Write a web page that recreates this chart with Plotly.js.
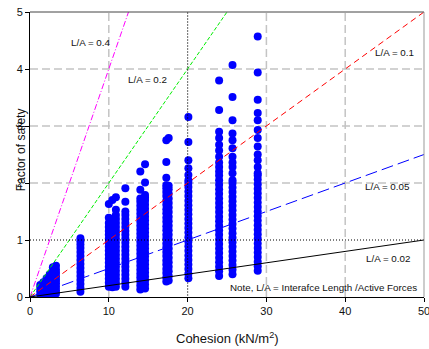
<!DOCTYPE html>
<html>
<head>
<meta charset="utf-8">
<script src="https://cdn.plot.ly/plotly-3.0.1.min.js"></script>
<style>html,body{margin:0;padding:0;background:#fff;}#chart{width:429px;height:349px;}</style>
</head>
<body>
<div id="chart"></div>
<script>
// ---- data ----
const xTicks = [0, 10, 20, 30, 40, 50];
const yTicks = [0, 1, 2, 3, 4, 5];
const gridX = [10, 30, 40];
const gridY = [2, 3, 4];
const refX = [20];
const refY = [1];

// L/A ratio lines: factor of safety = ratio * cohesion
const ratios = [0.4, 0.2, 0.1, 0.05, 0.02];
const ratioLabels = ["L/A = 0.4", "L/A = 0.2", "L/A = 0.1", "L/A = 0.05", "L/A = 0.02"];
const lineCohesion = [0, 50];

// observed columns (cohesion, kN/m2) and factors of safety
const colCohesion = [1.3, 1.7, 2.1, 2.5, 2.9, 3.3, 6.4, 10.0, 10.45, 10.9, 12.1, 14.0, 14.6, 17.3, 17.6, 20.1, 24.0, 25.7, 28.9];
const fs_1_3 = [0.04, 0.1, 0.16, 0.21];
const fs_1_7 = [0.03, 0.09, 0.15, 0.21, 0.26];
const fs_2_1 = [0.04, 0.1, 0.16, 0.22, 0.28, 0.33];
const fs_2_5 = [0.05, 0.11, 0.17, 0.23, 0.29, 0.35, 0.4];
const fs_2_9 = [0.05, 0.11, 0.17, 0.23, 0.29, 0.35, 0.41, 0.47, 0.52];
const fs_3_3 = [0.06, 0.12, 0.18, 0.24, 0.3, 0.36, 0.42, 0.48, 0.55];
const fs_6_4 = [0.09, 0.16, 0.23, 0.3, 0.37, 0.44, 0.51, 0.58, 0.65, 0.72, 0.79, 0.86, 0.92, 0.98, 1.03];
const fs_10_0 = [0.18, 0.25, 0.32, 0.39, 0.46, 0.53, 0.6, 0.67, 0.74, 0.81, 0.88, 0.95, 1.02, 1.09, 1.16, 1.23, 1.3, 1.39, 1.63];
const fs_10_45 = [0.17, 0.24, 0.31, 0.38, 0.45, 0.52, 0.59, 0.66, 0.73, 0.8, 0.87, 0.94, 1.01, 1.08, 1.15, 1.22, 1.29, 1.36, 1.7];
const fs_10_9 = [0.18, 0.25, 0.32, 0.39, 0.46, 0.53, 0.6, 0.67, 0.74, 0.81, 0.88, 0.95, 1.02, 1.09, 1.16, 1.23, 1.3, 1.37, 1.44, 1.53, 1.75];
const fs_12_1 = [0.18, 0.25, 0.32, 0.39, 0.46, 0.53, 0.6, 0.67, 0.74, 0.81, 0.88, 0.95, 1.02, 1.09, 1.16, 1.23, 1.3, 1.37, 1.44, 1.5, 1.67, 1.91];
const fs_14_0 = [0.13, 0.2, 0.27, 0.34, 0.41, 0.48, 0.55, 0.62, 0.69, 0.76, 0.83, 0.9, 0.97, 1.04, 1.11, 1.18, 1.25, 1.32, 1.39, 1.46, 1.53, 1.6, 1.67, 1.73, 1.88, 2.2];
const fs_14_6 = [0.15, 0.22, 0.29, 0.36, 0.43, 0.5, 0.57, 0.64, 0.71, 0.78, 0.85, 0.92, 0.99, 1.06, 1.13, 1.2, 1.27, 1.34, 1.41, 1.48, 1.55, 1.62, 1.69, 1.74, 1.79, 2.01, 2.33];
const fs_17_3 = [0.27, 0.34, 0.42, 0.49, 0.57, 0.64, 0.72, 0.79, 0.87, 0.94, 1.02, 1.09, 1.17, 1.24, 1.32, 1.39, 1.47, 1.54, 1.62, 1.69, 1.77, 1.84, 1.91, 1.96, 2.09, 2.37, 2.75];
const fs_17_6 = [0.29, 0.37, 0.45, 0.53, 0.61, 0.69, 0.77, 0.85, 0.93, 1.01, 1.09, 1.17, 1.25, 1.33, 1.41, 1.49, 1.57, 1.65, 1.73, 1.81, 1.89, 1.95, 2.79];
const fs_20_1 = [0.33, 0.41, 0.49, 0.57, 0.65, 0.73, 0.81, 0.89, 0.97, 1.05, 1.13, 1.21, 1.29, 1.37, 1.45, 1.53, 1.61, 1.69, 1.77, 1.85, 1.93, 2.0, 2.05, 2.14, 2.26, 2.4, 2.72, 3.16];
const fs_24_0 = [0.37, 0.45, 0.53, 0.61, 0.69, 0.77, 0.85, 0.93, 1.01, 1.09, 1.17, 1.25, 1.33, 1.41, 1.49, 1.57, 1.65, 1.73, 1.81, 1.89, 1.97, 2.05, 2.13, 2.2, 2.28, 2.36, 2.46, 2.57, 2.67, 2.79, 2.9, 3.28, 3.8];
const fs_25_7 = [0.4, 0.48, 0.56, 0.64, 0.72, 0.8, 0.88, 0.96, 1.04, 1.12, 1.2, 1.28, 1.36, 1.44, 1.52, 1.6, 1.68, 1.76, 1.84, 1.92, 2.0, 2.05, 2.17, 2.28, 2.36, 2.46, 2.61, 2.75, 2.87, 3.1, 3.51, 4.07];
const fs_28_9 = [0.46, 0.54, 0.62, 0.7, 0.78, 0.86, 0.94, 1.02, 1.1, 1.18, 1.26, 1.34, 1.42, 1.5, 1.58, 1.66, 1.74, 1.82, 1.9, 1.98, 2.06, 2.13, 2.17, 2.28, 2.4, 2.5, 2.64, 2.79, 2.93, 3.1, 3.23, 3.46, 3.94, 4.57];
const colFs = [fs_1_3, fs_1_7, fs_2_1, fs_2_5, fs_2_9, fs_3_3, fs_6_4, fs_10_0, fs_10_45, fs_10_9, fs_12_1, fs_14_0, fs_14_6, fs_17_3, fs_17_6, fs_20_1, fs_24_0, fs_25_7, fs_28_9];

// ---- styling ----
const FONT = "'Liberation Sans', Arial, Helvetica, sans-serif";
const lineColors = ["#ff00ff", "#00ee00", "#ff0000", "#0000ff", "#000000"];
const lineDashes = ["6px,2px,1px,2px", "4px,2px", "6px,4px", "12px,5px", "solid"];
const labelPos = [[7.74, 4.46], [14.97, 3.81], [46.26, 4.29], [45.43, 1.935], [45.43, 0.667]];

const px = [], py = [];
colCohesion.forEach((c, i) => { colFs[i].forEach(v => { px.push(c); py.push(v); }); });

const traces = [{
  type: "scatter", mode: "markers", x: px, y: py,
  marker: {color: "#0000ff", size: 8, line: {width: 0}},
  hoverinfo: "x+y"
}];
ratios.forEach((r, i) => {
  traces.push({
    type: "scatter", mode: "lines",
    x: lineCohesion, y: lineCohesion.map(c => r * c),
    line: {color: lineColors[i], width: 1, dash: lineDashes[i]},
    hoverinfo: "skip"
  });
});

const shapes = [];
gridX.forEach(v => shapes.push({type: "line", layer: "below", xref: "x", yref: "y", x0: v, x1: v, y0: 0, y1: 5, line: {color: "#c4c4c4", width: 1.5, dash: "8px,4px"}}));
gridY.forEach(v => shapes.push({type: "line", layer: "below", xref: "x", yref: "y", x0: 0, x1: 50, y0: v, y1: v, line: {color: "#c4c4c4", width: 1.5, dash: "8px,4px"}}));
refX.forEach(v => shapes.push({type: "line", layer: "above", xref: "x", yref: "y", x0: v, x1: v, y0: -0.08, y1: 5, line: {color: "#000", width: 1.2, dash: "1px,2px"}}));
refY.forEach(v => shapes.push({type: "line", layer: "above", xref: "x", yref: "y", x0: 0, x1: 50, y0: v, y1: v, line: {color: "#000", width: 1.2, dash: "1px,2px"}}));
shapes.push({type: "line", layer: "above", xref: "paper", yref: "paper", x0: 0, x1: 1, y0: 1, y1: 1, line: {color: "#444", width: 1}});
shapes.push({type: "line", layer: "above", xref: "paper", yref: "paper", x0: 1, x1: 1, y0: 0, y1: 1, line: {color: "#999", width: 1}});

const annotations = ratioLabels.map((t, i) => ({
  text: t, xref: "x", yref: "y", x: labelPos[i][0], y: labelPos[i][1],
  showarrow: false, xanchor: "center", yanchor: "middle",
  font: {family: FONT, size: 9.8, color: "#111"}
}));
annotations.push({text: "Note, L/A = Interafce Length /Active Forces", xref: "x", yref: "y", x: 37.25, y: 0.17,
  showarrow: false, xanchor: "center", yanchor: "middle", font: {family: FONT, size: 9.8, color: "#111"}});
annotations.push({text: "Factor of safety", xref: "paper", yref: "paper", x: -0.022, y: 0.516, textangle: -90,
  showarrow: false, xanchor: "center", yanchor: "middle", font: {family: FONT, size: 12, color: "#111"}});
annotations.push({text: "Cohesion (kN/m<sup>2</sup>)", xref: "paper", yref: "paper", x: 0.5, y: -0.144,
  showarrow: false, xanchor: "center", yanchor: "middle", font: {family: FONT, size: 13, color: "#111"}});

const layout = {
  width: 429, height: 349,
  margin: {l: 30, r: 5, t: 12, b: 52, pad: 0},
  paper_bgcolor: "#fff", plot_bgcolor: "#fff",
  showlegend: false,
  font: {family: FONT, color: "#111"},
  xaxis: {range: [0, 50], tickvals: xTicks, ticktext: xTicks.map(String), showgrid: false, zeroline: false,
    showline: true, linecolor: "#000", linewidth: 1, ticks: "outside", ticklen: 4, tickcolor: "#000",
    ticklabeloverflow: "allow",
    tickfont: {family: FONT, size: 11, color: "#111"}},
  yaxis: {range: [0, 5], tickvals: yTicks, ticktext: yTicks.map(String), showgrid: false, zeroline: false,
    showline: true, linecolor: "#000", linewidth: 1, ticks: "outside", ticklen: 4, tickcolor: "#000",
    ticklabeloverflow: "allow",
    tickfont: {family: FONT, size: 11, color: "#111"}},
  shapes: shapes,
  annotations: annotations
};

Plotly.newPlot("chart", traces, layout, {displayModeBar: false, staticPlot: true});
</script>
</body>
</html>
